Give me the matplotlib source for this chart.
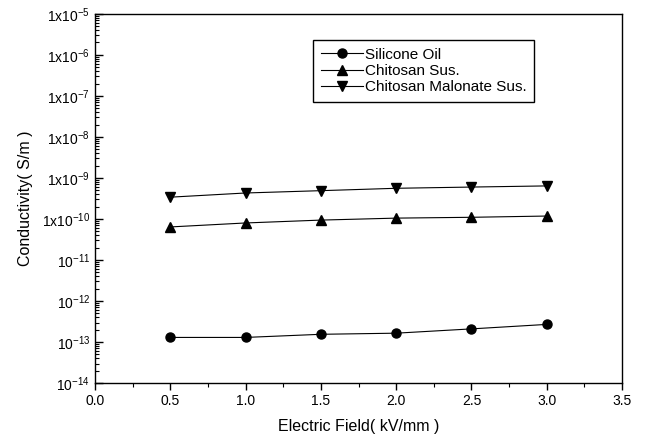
import matplotlib
matplotlib.use("Agg")
import matplotlib.pyplot as plt
from matplotlib.ticker import FixedLocator, LogLocator, MultipleLocator, FuncFormatter
import numpy as np

plt.rcParams['font.family'] = ['Liberation Sans', 'DejaVu Sans']
plt.rcParams['mathtext.fontset'] = 'custom'
plt.rcParams['mathtext.rm'] = 'Liberation Sans'
plt.rcParams['mathtext.default'] = 'regular'
plt.rcParams['axes.unicode_minus'] = False

field = [0.5, 1.0, 1.5, 2.0, 2.5, 3.0]
silicone = [1.3e-13, 1.3e-13, 1.55e-13, 1.65e-13, 2.1e-13, 2.7e-13]
chitosan = [6.4e-11, 8.0e-11, 9.4e-11, 1.05e-10, 1.1e-10, 1.18e-10]
malonate = [3.4e-10, 4.3e-10, 4.9e-10, 5.6e-10, 6.0e-10, 6.4e-10]
labels = ["Silicone Oil", "Chitosan Sus.", "Chitosan Malonate Sus."]
ytick_exps = [-14, -13, -12, -11, -10, -9, -8, -7, -6, -5]

fig = plt.figure(figsize=(6.46, 4.45), dpi=100)
ax = fig.add_axes([0.147, 0.139, 0.816, 0.830])

ax.plot(field, silicone, color="black", lw=0.8, marker="o", ms=6.5, label=labels[0])
ax.plot(field, chitosan, color="black", lw=0.8, marker="^", ms=6.5, label=labels[1])
ax.plot(field, malonate, color="black", lw=0.8, marker="v", ms=6.5, label=labels[2])

ax.set_yscale("log")
ax.set_xlim(0, 3.5)
ax.set_ylim(1e-14, 1e-5)
ax.xaxis.set_major_locator(MultipleLocator(0.5))
ax.xaxis.set_minor_locator(MultipleLocator(0.25))
ax.xaxis.set_major_formatter(FuncFormatter(lambda v, p: f"{v:.1f}"))

ax.yaxis.set_major_locator(FixedLocator([10.0 ** e for e in ytick_exps]))
ax.yaxis.set_minor_locator(LogLocator(base=10, subs=np.arange(2, 10), numticks=20))

def yfmt(v, p):
    e = int(round(np.log10(v)))
    if e >= -10:
        return "1x10$^{%d}$" % e
    return "10$^{%d}$" % e

ax.yaxis.set_major_formatter(FuncFormatter(yfmt))
ax.yaxis.set_minor_formatter(FuncFormatter(lambda v, p: ""))

ax.tick_params(axis="y", which="major", direction="in", length=6, width=1, labelsize=10)
ax.tick_params(axis="y", which="minor", direction="in", length=3, width=0.8)
ax.tick_params(axis="x", which="major", direction="out", length=5, width=1, labelsize=10, pad=3)
ax.tick_params(axis="x", which="minor", direction="out", length=3, width=0.8)
for s in ax.spines.values():
    s.set_linewidth(1.0)

ax.set_xlabel("Electric Field( kV/mm )", fontsize=11.5, labelpad=8)
ax.set_ylabel("Conductivity( S/m )", fontsize=11.5, labelpad=6)

leg = ax.legend(loc="upper left", bbox_to_anchor=(313 / 646, 1 - 40 / 445),
                bbox_transform=fig.transFigure, fancybox=False, framealpha=1,
                edgecolor="black", fontsize=11, handlelength=2.8,
                borderpad=0.5, labelspacing=0.15, handletextpad=0.1,
                borderaxespad=0)
leg.get_frame().set_linewidth(1.0)

fig.savefig("out.png", dpi=100)
